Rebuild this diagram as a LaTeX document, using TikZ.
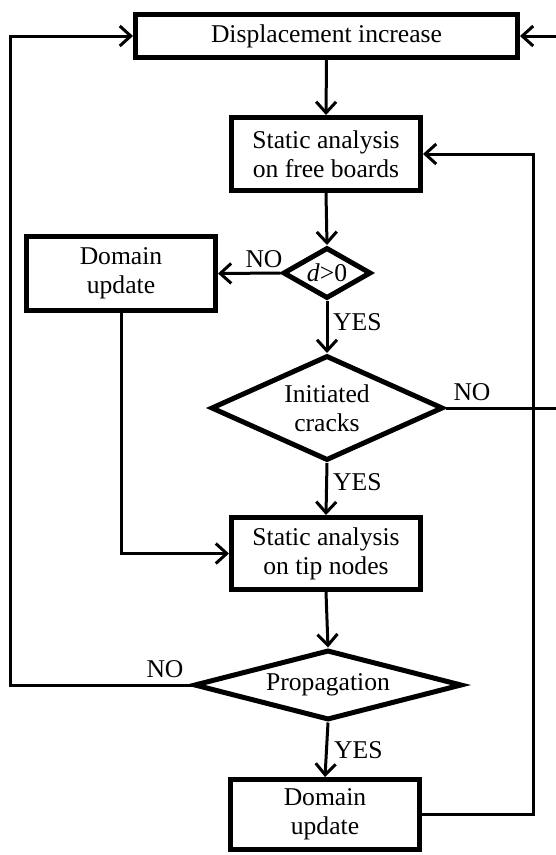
\documentclass[tikz,border=0pt]{standalone}
\usepackage{fontspec}
\setmainfont{Liberation Serif}
\usetikzlibrary{shapes.geometric,arrows.meta}
\newcommand\myfs{\fontsize{25.6}{29}\selectfont}
\begin{document}
\begin{tikzpicture}[x=1pt,y=-1pt,
  box/.style={draw, line width=5, minimum width=189, minimum height=72, inner sep=0, align=center, font=\myfs},
  dia/.style={draw, diamond, line width=5, inner sep=0, align=center, font=\myfs},
  arr/.style={line width=3, -{Straight Barb[length=11,width=20,line width=3]}},
  lbl/.style={font=\myfs, inner sep=0}]
\useasboundingbox (0,0) rectangle (555,855);
% nodes
\node[box, minimum width=382, minimum height=43] (disp) at (326.5,36) {Displacement increase};
\node[box, minimum height=73] (sa1) at (326,154) {Static analysis\\on free boards};
\node[dia, minimum width=88, minimum height=51, shape aspect=1.7] (d) at (327,273) {\textit{d}>0};
\node[box, minimum height=74] (dom1) at (121,273.5) {Domain\\update};
\node[dia, minimum width=232, minimum height=105, shape aspect=2.2] (ic) at (327,408) {Initiated\\cracks};
\node[box] (sa2) at (326,553.5) {Static analysis\\on tip nodes};
\node[dia, minimum width=268, minimum height=70, shape aspect=3.8] (prop) at (328,685) {Propagation};
\node[box, minimum height=70] (dom2) at (325,814.5) {Domain\\update};
% helper coordinates
\coordinate (ll) at (10,0);
\coordinate (rr) at (558,0);
\coordinate (rv) at (533,0);
% connectors
\draw[arr] (disp.south) -- (sa1.north);
\draw[arr] (sa1.south) -- (d.north);
\draw[arr] (d.west) -- (dom1.east);
\draw[arr] (d.south) -- (ic.north);
\draw[arr] (ic.south) -- (sa2.north);
\draw[arr] (ic.east) -- (ic.east -| rr) -- (disp.east -| rr) -- (disp.east);
\draw[arr] (dom1.south) |- (sa2.west);
\draw[arr] (sa2.south) -- (prop.north);
\draw[arr] (prop.west) -- (prop.west -| ll) -- (disp.west -| ll) -- (disp.west);
\draw[arr] (prop.south) -- (dom2.north);
\draw[arr] (dom2.east) -- (dom2.east -| rv) -- (sa1.east -| rv) -- (sa1.east);
% labels
\node[lbl, anchor=base] (no1) at (264,267) {NO};
\node[lbl, anchor=base west] (yes1) at (333,330) {YES};
\node[lbl, anchor=base] (no2) at (472,400) {NO};
\node[lbl, anchor=base west] (yes2) at (333,490) {YES};
\node[lbl, anchor=base] (no3) at (165,677) {NO};
\node[lbl, anchor=base west] (yes3) at (334,758) {YES};
\end{tikzpicture}
\end{document}
